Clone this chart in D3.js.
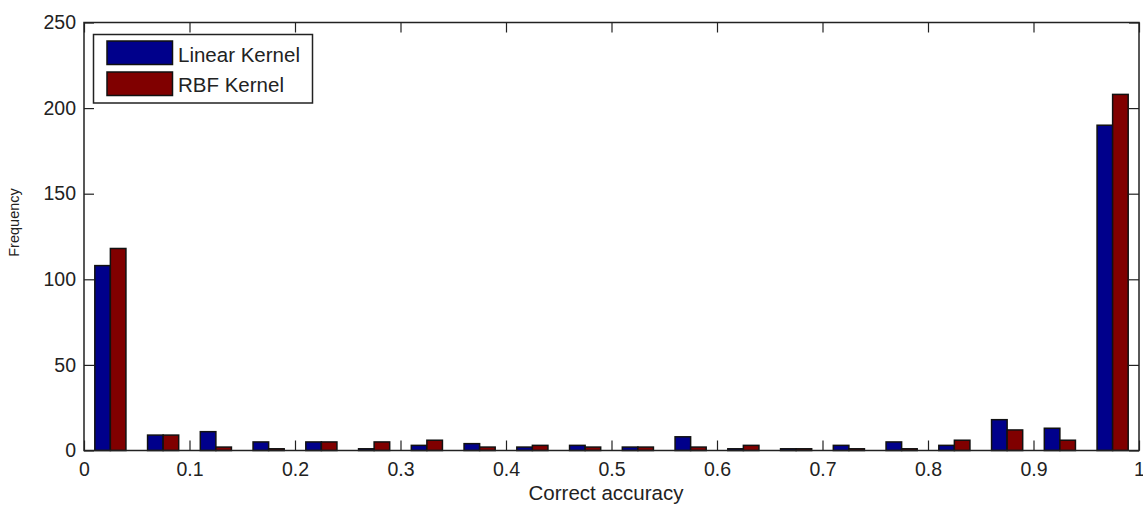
<!DOCTYPE html>
<html>
<head>
<meta charset="utf-8">
<script src="https://cdn.jsdelivr.net/npm/d3@7"></script>
<style>
  html, body { margin: 0; padding: 0; background: #fff; }
  svg { display: block; }
  text { font-family: "Liberation Sans", Arial, sans-serif; fill: #222; }
</style>
</head>
<body>
<svg id="chart" width="1143" height="510"></svg>
<script>
// ---- data ----
const binStarts = [0, 0.05, 0.1, 0.15, 0.2, 0.25, 0.3, 0.35, 0.4, 0.45,
                   0.5, 0.55, 0.6, 0.65, 0.7, 0.75, 0.8, 0.85, 0.9, 0.95];
const binWidth = 0.05;
const linearKernel = [108, 9, 11, 5, 5, 1, 3, 4, 2, 3, 2, 8, 1, 1, 3, 5, 3, 18, 13, 190];
const rbfKernel    = [118, 9, 2, 1, 5, 5, 6, 2, 3, 2, 2, 2, 3, 1, 1, 1, 6, 12, 6, 208];
const seriesNames = ["Linear Kernel", "RBF Kernel"];
const seriesColors = ["#00008b", "#800000"];
const xTicks = [0, 0.1, 0.2, 0.3, 0.4, 0.5, 0.6, 0.7, 0.8, 0.9, 1];
const xTickLabels = ["0", "0.1", "0.2", "0.3", "0.4", "0.5", "0.6", "0.7", "0.8", "0.9", "1"];
const yTicks = [0, 50, 100, 150, 200, 250];
const xLabel = "Correct accuracy";
const yLabel = "Frequency";

// ---- layout ----
const L = 84, R = 1139, T = 22.5, B = 450.5;
const svg = d3.select("#chart");
svg.append("rect").attr("width", 1143).attr("height", 510).attr("fill", "#fff");

const x = d3.scaleLinear().domain([0, 1]).range([L, R]);
const y = d3.scaleLinear().domain([0, 250]).range([B, T]);

const axisColor = "#222";
function styleAxis(g) {
  g.select(".domain").remove();
  g.selectAll(".tick line").attr("stroke", axisColor).attr("stroke-width", 1.2);
  g.selectAll(".tick text").attr("fill", "#222");
}

// bottom axis with labels
svg.append("g").attr("transform", `translate(0,${B})`)
  .call(d3.axisBottom(x).tickValues(xTicks)
    .tickFormat((d, i) => xTickLabels[i]).tickSize(-10).tickPadding(12))
  .call(styleAxis)
  .call(g => g.selectAll(".tick text").style("font-size", "19.5px"));
// top axis ticks only
svg.append("g").attr("transform", `translate(0,${T})`)
  .call(d3.axisTop(x).tickValues(xTicks).tickFormat("").tickSize(-10))
  .call(styleAxis);
// left axis with labels
svg.append("g").attr("transform", `translate(${L},0)`)
  .call(d3.axisLeft(y).tickValues(yTicks).tickSize(-10).tickPadding(8))
  .call(styleAxis)
  .call(g => g.selectAll(".tick text").style("font-size", "19.5px"));
// right axis ticks only
svg.append("g").attr("transform", `translate(${R},0)`)
  .call(d3.axisRight(y).tickValues(yTicks).tickFormat("").tickSize(-10))
  .call(styleAxis);

// ---- bars ----
const barW = binWidth * 0.295;
const series = [linearKernel, rbfKernel];
series.forEach((vals, si) => {
  svg.append("g").selectAll("rect")
    .data(vals.map((v, i) => ({ v, c: binStarts[i] + binWidth / 2 })))
    .join("rect")
    .attr("x", d => x(si === 0 ? d.c - barW : d.c))
    .attr("width", d => x(barW) - x(0))
    .attr("y", d => y(d.v))
    .attr("height", d => y(0) - y(d.v))
    .attr("fill", seriesColors[si])
    .attr("stroke", "#111")
    .attr("stroke-width", 1.5);
});

// ---- box ----
svg.append("rect")
  .attr("x", L).attr("y", T).attr("width", R - L).attr("height", B - T)
  .attr("fill", "none").attr("stroke", axisColor).attr("stroke-width", 1.5);

// ---- axis labels ----
svg.append("text").attr("x", 606).attr("y", 500)
  .attr("text-anchor", "middle").style("font-size", "20.5px").text(xLabel);
svg.append("text")
  .attr("transform", "translate(18.5,222.5) rotate(-90)")
  .attr("text-anchor", "middle").style("font-size", "14.5px").text(yLabel);

// ---- legend ----
const lg = svg.append("g");
lg.append("rect").attr("x", 93.5).attr("y", 34.5).attr("width", 219).attr("height", 68.5)
  .attr("fill", "#fff").attr("stroke", axisColor).attr("stroke-width", 1.5);
const legY = [41, 72];
const legBase = [61.5, 92];
seriesNames.forEach((name, i) => {
  lg.append("rect").attr("x", 107).attr("y", legY[i]).attr("width", 65.5).attr("height", 23.5)
    .attr("fill", seriesColors[i]).attr("stroke", "#111").attr("stroke-width", 1.5);
  lg.append("text").attr("x", 178).attr("y", legBase[i])
    .style("font-size", "20.5px").text(name);
});
</script>
</body>
</html>
